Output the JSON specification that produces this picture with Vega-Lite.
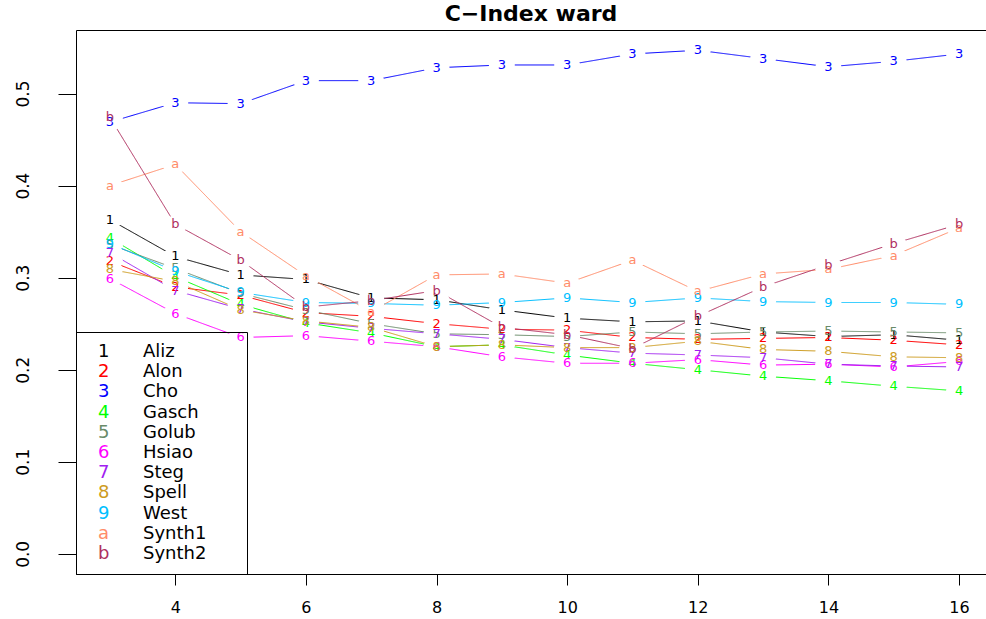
{
"$schema": "https://vega.github.io/schema/vega-lite/v6.json",
"width": 910, "height": 544,
"autosize": {"type": "none"},
"padding": {"left": 76, "top": 30, "right": 0, "bottom": 45},
"background": "white",
"title": {"text": "C−Index ward", "font": "DejaVu Sans", "fontSize": 22, "fontWeight": "bold", "color": "black", "anchor": "middle", "frame": "group", "offset": 4},
"config": {
  "view": {"stroke": "black", "strokeWidth": 1},
  "axis": {"domain": false, "grid": false, "tickColor": "black", "labelColor": "black", "labelFont": "DejaVu Sans", "labelFontSize": 16, "title": null}
},
"data": {"values": [
{"s":"Aliz","c":"1","x":3,"v":0.363},{"s":"Aliz","c":"1","x":4,"v":0.323},{"s":"Aliz","c":"1","x":5,"v":0.303},{"s":"Aliz","c":"1","x":6,"v":0.298},{"s":"Aliz","c":"1","x":7,"v":0.278},{"s":"Aliz","c":"1","x":8,"v":0.276},{"s":"Aliz","c":"1","x":9,"v":0.265},{"s":"Aliz","c":"1","x":10,"v":0.256},{"s":"Aliz","c":"1","x":11,"v":0.252},{"s":"Aliz","c":"1","x":12,"v":0.253},{"s":"Aliz","c":"1","x":13,"v":0.241},{"s":"Aliz","c":"1","x":14,"v":0.236},{"s":"Aliz","c":"1","x":15,"v":0.238},{"s":"Aliz","c":"1","x":16,"v":0.232},
{"s":"Alon","c":"2","x":3,"v":0.318},{"s":"Alon","c":"2","x":4,"v":0.290},{"s":"Alon","c":"2","x":5,"v":0.281},{"s":"Alon","c":"2","x":6,"v":0.262},{"s":"Alon","c":"2","x":7,"v":0.258},{"s":"Alon","c":"2","x":8,"v":0.250},{"s":"Alon","c":"2","x":9,"v":0.244},{"s":"Alon","c":"2","x":10,"v":0.243},{"s":"Alon","c":"2","x":11,"v":0.235},{"s":"Alon","c":"2","x":12,"v":0.233},{"s":"Alon","c":"2","x":13,"v":0.234},{"s":"Alon","c":"2","x":14,"v":0.235},{"s":"Alon","c":"2","x":15,"v":0.232},{"s":"Alon","c":"2","x":16,"v":0.227},
{"s":"Cho","c":"3","x":3,"v":0.469},{"s":"Cho","c":"3","x":4,"v":0.490},{"s":"Cho","c":"3","x":5,"v":0.489},{"s":"Cho","c":"3","x":6,"v":0.514},{"s":"Cho","c":"3","x":7,"v":0.514},{"s":"Cho","c":"3","x":8,"v":0.528},{"s":"Cho","c":"3","x":9,"v":0.531},{"s":"Cho","c":"3","x":10,"v":0.531},{"s":"Cho","c":"3","x":11,"v":0.543},{"s":"Cho","c":"3","x":12,"v":0.547},{"s":"Cho","c":"3","x":13,"v":0.538},{"s":"Cho","c":"3","x":14,"v":0.529},{"s":"Cho","c":"3","x":15,"v":0.535},{"s":"Cho","c":"3","x":16,"v":0.543},
{"s":"Gasch","c":"4","x":3,"v":0.343},{"s":"Gasch","c":"4","x":4,"v":0.301},{"s":"Gasch","c":"4","x":5,"v":0.271},{"s":"Gasch","c":"4","x":6,"v":0.251},{"s":"Gasch","c":"4","x":7,"v":0.240},{"s":"Gasch","c":"4","x":8,"v":0.225},{"s":"Gasch","c":"4","x":9,"v":0.227},{"s":"Gasch","c":"4","x":10,"v":0.216},{"s":"Gasch","c":"4","x":11,"v":0.207},{"s":"Gasch","c":"4","x":12,"v":0.200},{"s":"Gasch","c":"4","x":13,"v":0.193},{"s":"Gasch","c":"4","x":14,"v":0.188},{"s":"Gasch","c":"4","x":15,"v":0.182},{"s":"Gasch","c":"4","x":16,"v":0.177},
{"s":"Golub","c":"5","x":3,"v":0.336},{"s":"Golub","c":"5","x":4,"v":0.310},{"s":"Golub","c":"5","x":5,"v":0.283},{"s":"Golub","c":"5","x":6,"v":0.265},{"s":"Golub","c":"5","x":7,"v":0.250},{"s":"Golub","c":"5","x":8,"v":0.239},{"s":"Golub","c":"5","x":9,"v":0.238},{"s":"Golub","c":"5","x":10,"v":0.236},{"s":"Golub","c":"5","x":11,"v":0.241},{"s":"Golub","c":"5","x":12,"v":0.239},{"s":"Golub","c":"5","x":13,"v":0.241},{"s":"Golub","c":"5","x":14,"v":0.242},{"s":"Golub","c":"5","x":15,"v":0.241},{"s":"Golub","c":"5","x":16,"v":0.240},
{"s":"Hsiao","c":"6","x":3,"v":0.299},{"s":"Hsiao","c":"6","x":4,"v":0.261},{"s":"Hsiao","c":"6","x":5,"v":0.235},{"s":"Hsiao","c":"6","x":6,"v":0.237},{"s":"Hsiao","c":"6","x":7,"v":0.231},{"s":"Hsiao","c":"6","x":8,"v":0.225},{"s":"Hsiao","c":"6","x":9,"v":0.214},{"s":"Hsiao","c":"6","x":10,"v":0.207},{"s":"Hsiao","c":"6","x":11,"v":0.207},{"s":"Hsiao","c":"6","x":12,"v":0.211},{"s":"Hsiao","c":"6","x":13,"v":0.205},{"s":"Hsiao","c":"6","x":14,"v":0.206},{"s":"Hsiao","c":"6","x":15,"v":0.203},{"s":"Hsiao","c":"6","x":16,"v":0.209},
{"s":"Steg","c":"7","x":3,"v":0.327},{"s":"Steg","c":"7","x":4,"v":0.286},{"s":"Steg","c":"7","x":5,"v":0.266},{"s":"Steg","c":"7","x":6,"v":0.252},{"s":"Steg","c":"7","x":7,"v":0.245},{"s":"Steg","c":"7","x":8,"v":0.239},{"s":"Steg","c":"7","x":9,"v":0.233},{"s":"Steg","c":"7","x":10,"v":0.224},{"s":"Steg","c":"7","x":11,"v":0.218},{"s":"Steg","c":"7","x":12,"v":0.216},{"s":"Steg","c":"7","x":13,"v":0.213},{"s":"Steg","c":"7","x":14,"v":0.206},{"s":"Steg","c":"7","x":15,"v":0.204},{"s":"Steg","c":"7","x":16,"v":0.203},
{"s":"Spell","c":"8","x":3,"v":0.309},{"s":"Spell","c":"8","x":4,"v":0.296},{"s":"Spell","c":"8","x":5,"v":0.265},{"s":"Spell","c":"8","x":6,"v":0.253},{"s":"Spell","c":"8","x":7,"v":0.246},{"s":"Spell","c":"8","x":8,"v":0.225},{"s":"Spell","c":"8","x":9,"v":0.227},{"s":"Spell","c":"8","x":10,"v":0.224},{"s":"Spell","c":"8","x":11,"v":0.224},{"s":"Spell","c":"8","x":12,"v":0.231},{"s":"Spell","c":"8","x":13,"v":0.222},{"s":"Spell","c":"8","x":14,"v":0.220},{"s":"Spell","c":"8","x":15,"v":0.214},{"s":"Spell","c":"8","x":16,"v":0.213},
{"s":"West","c":"9","x":3,"v":0.337},{"s":"West","c":"9","x":4,"v":0.307},{"s":"West","c":"9","x":5,"v":0.284},{"s":"West","c":"9","x":6,"v":0.273},{"s":"West","c":"9","x":7,"v":0.272},{"s":"West","c":"9","x":8,"v":0.270},{"s":"West","c":"9","x":9,"v":0.273},{"s":"West","c":"9","x":10,"v":0.278},{"s":"West","c":"9","x":11,"v":0.273},{"s":"West","c":"9","x":12,"v":0.278},{"s":"West","c":"9","x":13,"v":0.274},{"s":"West","c":"9","x":14,"v":0.273},{"s":"West","c":"9","x":15,"v":0.273},{"s":"West","c":"9","x":16,"v":0.271},
{"s":"Synth1","c":"a","x":3,"v":0.400},{"s":"Synth1","c":"a","x":4,"v":0.423},{"s":"Synth1","c":"a","x":5,"v":0.350},{"s":"Synth1","c":"a","x":6,"v":0.302},{"s":"Synth1","c":"a","x":7,"v":0.263},{"s":"Synth1","c":"a","x":8,"v":0.303},{"s":"Synth1","c":"a","x":9,"v":0.304},{"s":"Synth1","c":"a","x":10,"v":0.294},{"s":"Synth1","c":"a","x":11,"v":0.319},{"s":"Synth1","c":"a","x":12,"v":0.285},{"s":"Synth1","c":"a","x":13,"v":0.304},{"s":"Synth1","c":"a","x":14,"v":0.309},{"s":"Synth1","c":"a","x":15,"v":0.324},{"s":"Synth1","c":"a","x":16,"v":0.354},
{"s":"Synth2","c":"b","x":3,"v":0.474},{"s":"Synth2","c":"b","x":4,"v":0.358},{"s":"Synth2","c":"b","x":5,"v":0.319},{"s":"Synth2","c":"b","x":6,"v":0.268},{"s":"Synth2","c":"b","x":7,"v":0.275},{"s":"Synth2","c":"b","x":8,"v":0.286},{"s":"Synth2","c":"b","x":9,"v":0.246},{"s":"Synth2","c":"b","x":10,"v":0.238},{"s":"Synth2","c":"b","x":11,"v":0.223},{"s":"Synth2","c":"b","x":12,"v":0.258},{"s":"Synth2","c":"b","x":13,"v":0.290},{"s":"Synth2","c":"b","x":14,"v":0.314},{"s":"Synth2","c":"b","x":15,"v":0.337},{"s":"Synth2","c":"b","x":16,"v":0.358}
]},
"encoding": {
  "x": {"field": "x", "type": "quantitative", "scale": {"domain": [2.48, 16.413], "nice": false, "zero": false}, "axis": {"values": [4, 6, 8, 10, 12, 14, 16], "tickSize": 11, "labelPadding": 14}},
  "y": {"field": "v", "type": "quantitative", "scale": {"domain": [-0.0219, 0.569], "nice": false, "zero": false}, "axis": {"values": [0, 0.1, 0.2, 0.3, 0.4, 0.5], "format": ".1f", "tickSize": 18, "labelAngle": 270, "labelPadding": 26, "labelFontSize": 17}}
},
"layer": [
  {
    "mark": {"type": "line", "strokeWidth": 1},
    "encoding": {
      "color": {"field": "c", "type": "nominal",
        "scale": {"domain": ["1","2","3","4","5","6","7","8","9","a","b"], "range": ["#000000","#FF0000","#0000FF","#00FF00","#698B69","#FF00FF","#A020F0","#CD9B1D","#00BFFF","#FF8C69","#B03060"]},
        "legend": {"orient": "none", "legendX": 0, "legendY": 302, "title": null, "padding": 11, "rowPadding": 2.2, "symbolSize": 16, "symbolOpacity": 0, "symbolStrokeWidth": 0, "labelOffset": -7, "labelFont": "DejaVu Sans", "labelFontSize": 18,
          "encoding": {"labels": {"fill": {"value": {"expr": "scale('color', datum.value)"}}}}}
      },
      "strokeDash": {"field": "s", "type": "nominal",
        "scale": {"domain": ["Aliz","Alon","Cho","Gasch","Golub","Hsiao","Steg","Spell","West","Synth1","Synth2"], "range": [[1,0],[1,0],[1,0],[1,0],[1,0],[1,0],[1,0],[1,0],[1,0],[1,0],[1,0]]},
        "legend": {"orient": "none", "legendX": 0, "legendY": 302, "title": null, "padding": 11, "rowPadding": 2.2, "symbolSize": 16, "symbolOpacity": 0, "symbolStrokeWidth": 0, "labelOffset": 38, "labelFont": "DejaVu Sans", "labelFontSize": 18, "labelColor": "black", "strokeColor": "black",
          "labelExpr": "datum.label + '\u00a0\u00a0\u00a0\u00a0\u00a0\u200b'"}
      }
    }
  },
  {
    "mark": {"type": "point", "shape": "M-1,0A1,0.65,0,1,0,1,0A1,0.65,0,1,0,-1,0Z", "filled": true, "fill": "white", "opacity": 1, "size": 676, "strokeWidth": 0}
  },
  {
    "mark": {"type": "text", "font": "DejaVu Sans", "fontSize": 13, "align": "center", "baseline": "middle"},
    "encoding": {
      "text": {"field": "c"},
      "color": {"field": "c", "type": "nominal", "legend": null}
    }
  }
]
}
